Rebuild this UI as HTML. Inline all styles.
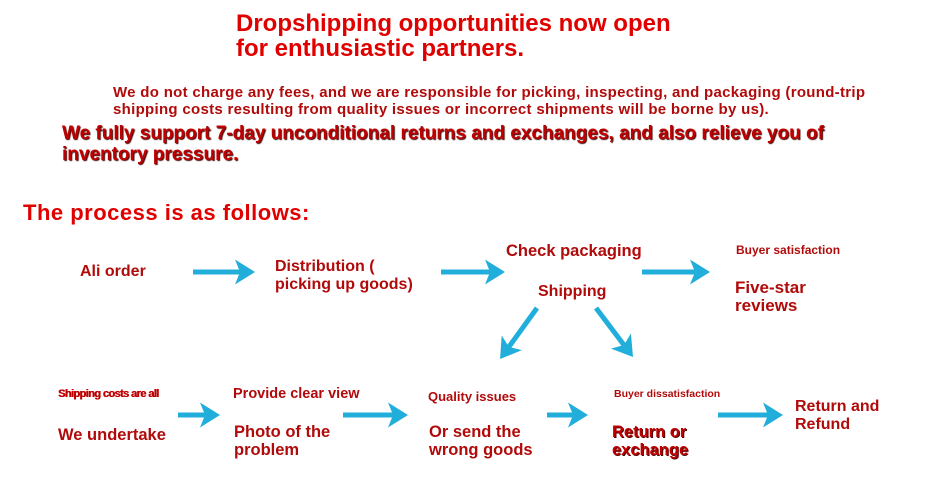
<!DOCTYPE html>
<html><head><style>
body{margin:0;width:939px;height:500px;background:#fff;position:relative;overflow:hidden;font-family:"Liberation Sans","DejaVu Sans",sans-serif;font-weight:bold}
.t{position:absolute;white-space:nowrap;line-height:1.1}
.r{color:#e00000}.d{color:#b10a0a}
</style></head><body>
<div class="t r" style="left:236px;top:11px;font-size:24px;line-height:25px">Dropshipping opportunities now open<br>for enthusiastic partners.</div>
<div class="t d" style="left:113px;top:84px;font-size:15px;line-height:17px;letter-spacing:0.3px">We do not charge any fees, and we are responsible for picking, inspecting, and packaging (round-trip<br>shipping costs resulting from quality issues or incorrect shipments will be borne by us).</div>
<div class="t" style="left:62px;top:123px;font-size:19px;line-height:21px;color:#c00000;text-shadow:1px 1px 1px #400">We fully support 7-day unconditional returns and exchanges, and also relieve you of<br>inventory pressure.</div>
<div class="t r" style="left:23px;top:201px;font-size:22px;letter-spacing:0.5px">The process is as follows:</div>

<div class="t d" style="left:80px;top:263px;font-size:16px">Ali order</div>
<div class="t d" style="left:275px;top:258px;font-size:16px;line-height:18px">Distribution (<br>picking up goods)</div>
<div class="t d" style="left:506px;top:242px;font-size:16.5px">Check packaging</div>
<div class="t d" style="left:538px;top:283px;font-size:16px">Shipping</div>
<div class="t d" style="left:736px;top:244px;font-size:12px">Buyer satisfaction</div>
<div class="t d" style="left:735px;top:279px;font-size:17px;line-height:18px">Five-star<br>reviews</div>

<div class="t" style="left:58px;top:388px;font-size:11px;color:#c00000;letter-spacing:-0.6px;text-shadow:0.5px 0 0 #c00000">Shipping costs are all</div>
<div class="t d" style="left:58px;top:426px;font-size:16.5px">We undertake</div>
<div class="t d" style="left:233px;top:387px;font-size:14.5px">Provide clear view</div>
<div class="t d" style="left:234px;top:423px;font-size:16.5px;line-height:18px">Photo of the<br>problem</div>
<div class="t d" style="left:428px;top:390px;font-size:13px">Quality issues</div>
<div class="t d" style="left:429px;top:423px;font-size:16.5px;line-height:18px">Or send the<br>wrong goods</div>
<div class="t d" style="left:614px;top:389px;font-size:10.5px">Buyer dissatisfaction</div>
<div class="t" style="left:612px;top:423px;font-size:16.5px;line-height:18px;color:#c00000;text-shadow:1px 1px 0 #500">Return or<br>exchange</div>
<div class="t d" style="left:795px;top:398px;font-size:16px;line-height:18px">Return and<br>Refund</div>

<svg width="939" height="500" style="position:absolute;left:0;top:0">
<defs><marker id="a" markerWidth="5" markerHeight="5" refX="3" refY="2.5" orient="auto" markerUnits="strokeWidth"><path d="M0,0 L4,2.5 L0,5 L1,2.5z" fill="#22aedb"/></marker></defs>
<g stroke="#22aedb" stroke-width="5" marker-end="url(#a)">
<line x1="193" y1="272" x2="250" y2="272"/>
<line x1="441" y1="272" x2="500" y2="272"/>
<line x1="642" y1="272" x2="705" y2="272"/>
<line x1="537" y1="308" x2="503" y2="355"/>
<line x1="596" y1="308" x2="630" y2="353"/>
<line x1="178" y1="415" x2="215" y2="415"/>
<line x1="343" y1="415" x2="403" y2="415"/>
<line x1="547" y1="415" x2="583" y2="415"/>
<line x1="718" y1="415" x2="778" y2="415"/>
</g></svg>
</body></html>
